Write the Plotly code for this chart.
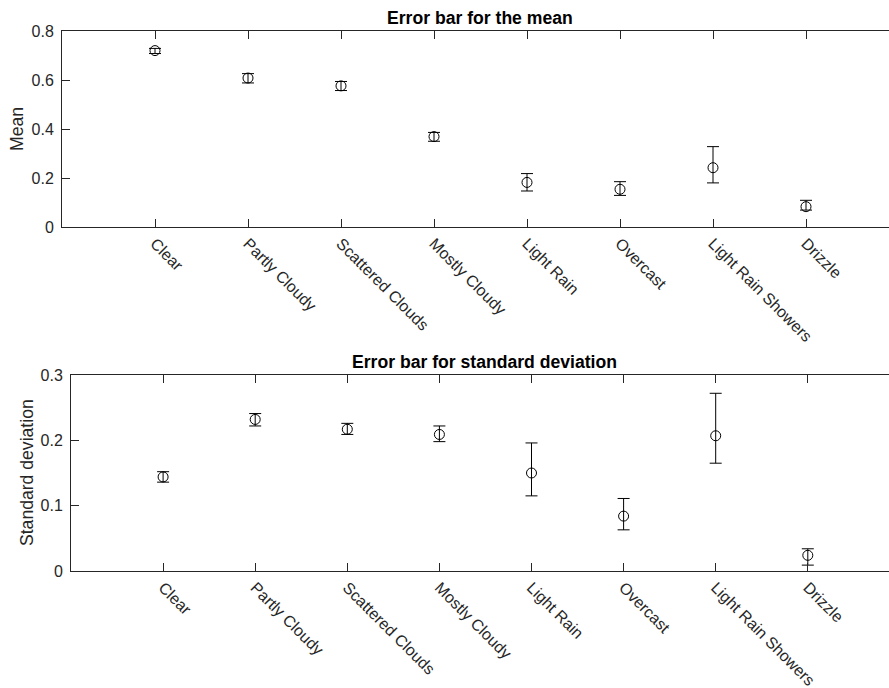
import plotly.graph_objects as go

categories = ["Clear", "Partly Cloudy", "Scattered Clouds", "Mostly Cloudy",
              "Light Rain", "Overcast", "Light Rain Showers", "Drizzle"]
positions = [1, 2, 3, 4, 5, 6, 7, 8]

mean_vals = [0.720, 0.608, 0.576, 0.369, 0.182, 0.154, 0.242, 0.083]
mean_err_plus = [0.009, 0.018, 0.018, 0.017, 0.036, 0.031, 0.086, 0.026]
mean_err_minus = [0.012, 0.020, 0.019, 0.019, 0.035, 0.025, 0.062, 0.014]

std_vals = [0.144, 0.232, 0.217, 0.209, 0.150, 0.084, 0.207, 0.024]
std_err_plus = [0.008, 0.009, 0.009, 0.013, 0.046, 0.027, 0.065, 0.010]
std_err_minus = [0.008, 0.010, 0.008, 0.011, 0.035, 0.021, 0.042, 0.015]

mean_ticks = [0, 0.2, 0.4, 0.6, 0.8]
std_ticks = [0, 0.1, 0.2, 0.3]

W, H = 889, 688
FONT = "Liberation Sans, Arial, Helvetica, sans-serif"
AX = "#262626"

fig = go.Figure()

fig.add_trace(go.Scatter(
    x=positions, y=mean_vals, mode="markers",
    marker=dict(symbol="circle-open", size=10, color="black", line=dict(width=1, color="black")),
    error_y=dict(type="data", symmetric=False, array=mean_err_plus, arrayminus=mean_err_minus,
                 color="black", thickness=1, width=6),
    xaxis="x", yaxis="y", showlegend=False, hoverinfo="skip"))

fig.add_trace(go.Scatter(
    x=positions, y=std_vals, mode="markers",
    marker=dict(symbol="circle-open", size=10, color="black", line=dict(width=1, color="black")),
    error_y=dict(type="data", symmetric=False, array=std_err_plus, arrayminus=std_err_minus,
                 color="black", thickness=1, width=6),
    xaxis="x2", yaxis="y2", showlegend=False, hoverinfo="skip"))

def xaxis_cfg(left_px, spacing):
    return dict(
        domain=[left_px / W, 1.0],
        range=[0, (W - left_px) / spacing],
        tickvals=positions, ticktext=categories, tickangle=45,
        ticks="inside", ticklen=8, tickcolor=AX, tickwidth=1,
        showline=True, linecolor=AX, linewidth=1, mirror="ticks",
        showgrid=False, zeroline=False, automargin=False,
        tickfont=dict(family=FONT, size=16, color=AX),
    )

def yaxis_cfg(top_px, bot_px, rng, tv):
    return dict(
        domain=[1 - bot_px / H, 1 - top_px / H],
        range=rng, tickvals=tv,
        ticks="inside", ticklen=8, tickcolor=AX, tickwidth=1,
        showline=True, linecolor=AX, linewidth=1, mirror=False,
        showgrid=False, zeroline=False, automargin=False,
        ticklabelstandoff=4,
        tickfont=dict(family=FONT, size=16, color=AX),
    )

fig.update_layout(
    width=W, height=H, autosize=False,
    margin=dict(l=0, r=0, t=0, b=0, pad=0, autoexpand=False),
    paper_bgcolor="white", plot_bgcolor="white",
    xaxis=dict(**xaxis_cfg(62, 93.0), anchor="y"),
    yaxis=dict(**yaxis_cfg(31, 227, [0, 0.8], mean_ticks), anchor="x"),
    xaxis2=dict(**xaxis_cfg(71, 92.1), anchor="y2"),
    yaxis2=dict(**yaxis_cfg(375, 571, [0, 0.3], std_ticks), anchor="x2"),
    annotations=[
        dict(text="<b>Error bar for the mean</b>", x=480 / W, y=1 - 18 / H, xref="paper", yref="paper",
             showarrow=False, font=dict(family=FONT, size=17.6, color="black"), xanchor="center", yanchor="middle"),
        dict(text="<b>Error bar for standard deviation</b>", x=485 / W, y=1 - 362 / H, xref="paper", yref="paper",
             showarrow=False, font=dict(family=FONT, size=17.6, color="black"), xanchor="center", yanchor="middle"),
        dict(text="Mean", x=17 / W, y=1 - 129 / H, xref="paper", yref="paper", textangle=-90,
             showarrow=False, font=dict(family=FONT, size=17.6, color=AX), xanchor="center", yanchor="middle"),
        dict(text="Standard deviation", x=27 / W, y=1 - 473 / H, xref="paper", yref="paper", textangle=-90,
             showarrow=False, font=dict(family=FONT, size=17.6, color=AX), xanchor="center", yanchor="middle"),
    ],
)

fig.write_html("out.html", config={"displayModeBar": False, "staticPlot": True},
               post_script="document.body.style.margin='0px';document.body.style.overflow='hidden';")
